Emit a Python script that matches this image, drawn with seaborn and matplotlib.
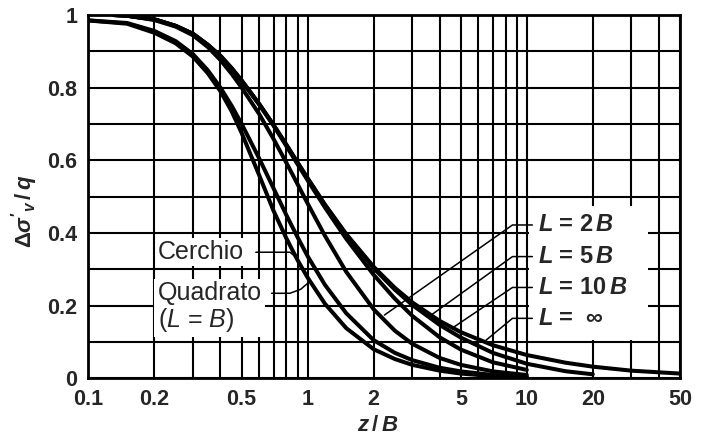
import matplotlib
matplotlib.use("Agg")
import matplotlib.pyplot as plt
from matplotlib.patches import Rectangle
from matplotlib.ticker import NullFormatter, FixedLocator
import pandas as pd
import seaborn as sns

# ---------------- data ----------------
x_lower = [0.1, 0.15, 0.2, 0.25, 0.3, 0.35, 0.4, 0.45, 0.5, 0.6, 0.7, 0.8, 0.9,
           1.0, 1.2, 1.5, 2, 2.5, 3, 4, 5, 7, 10]
y_cerchio = [0.985, 0.976, 0.951, 0.922, 0.885, 0.84, 0.79, 0.735, 0.675, 0.56,
             0.46, 0.385, 0.325, 0.277, 0.205, 0.138, 0.08, 0.053, 0.037, 0.021,
             0.013, 0.006, 0.002]
y_quadrato = [0.985, 0.978, 0.956, 0.928, 0.892, 0.848, 0.80, 0.75, 0.70, 0.606,
              0.522, 0.449, 0.388, 0.336, 0.257, 0.179, 0.105, 0.07, 0.05, 0.029,
              0.019, 0.009, 0.004]

x_upper = [0.13, 0.15, 0.2, 0.25, 0.3, 0.35, 0.4, 0.45, 0.5, 0.6, 0.7, 0.8, 0.9,
           1.0, 1.2, 1.5, 2, 2.5, 3, 4, 5, 7, 10, 15, 20, 30, 50]
y_L2B = [1.0, 0.998, 0.986, 0.968, 0.944, 0.912, 0.876, 0.838, 0.80, 0.728,
         0.658, 0.593, 0.534, 0.481, 0.392, 0.293, 0.19, 0.131, 0.095, 0.056,
         0.037, 0.019, 0.009]
y_L5B = [1.0, 0.998, 0.988, 0.97, 0.948, 0.918, 0.886, 0.852, 0.818, 0.754,
         0.695, 0.639, 0.589, 0.545, 0.47, 0.384, 0.285, 0.219, 0.172, 0.113,
         0.079, 0.044, 0.023]
y_L10B = [1.0, 0.998, 0.988, 0.97, 0.948, 0.918, 0.887, 0.853, 0.819, 0.755,
          0.696, 0.642, 0.593, 0.549, 0.477, 0.395, 0.303, 0.244, 0.202, 0.147,
          0.112, 0.07, 0.04, 0.0195, 0.011]
y_Linf = [1.0, 0.998, 0.988, 0.97, 0.948, 0.918, 0.888, 0.854, 0.82, 0.756,
          0.697, 0.643, 0.594, 0.551, 0.478, 0.397, 0.307, 0.249, 0.209, 0.158,
          0.127, 0.091, 0.064, 0.043, 0.032, 0.021, 0.013]

x_major = [0.1, 0.2, 0.5, 1, 2, 5, 10, 20, 50]
x_major_labels = ["0.1", "0.2", "0.5", "1", "2", "5", "10", "20", "50"]
x_minor = [0.3, 0.4, 0.6, 0.7, 0.8, 0.9, 3, 4, 6, 7, 8, 9, 30, 40]
y_major = [0, 0.2, 0.4, 0.6, 0.8, 1.0]
y_major_labels = ["0", "0.2", "0.4", "0.6", "0.8", "1"]
y_minor = [0.1, 0.3, 0.5, 0.7, 0.9]

right_labels = [r"$L$ = 2$\,B$", r"$L$ = 5$\,B$", r"$L$ = 10$\,B$", r"$L$ =  ∞"]

# ---------------- build long table ----------------
rows = []
for name, xs, ys in [("Cerchio", x_lower, y_cerchio),
                     ("Quadrato", x_lower, y_quadrato),
                     ("L2B", x_upper, y_L2B),
                     ("L5B", x_upper, y_L5B),
                     ("L10B", x_upper, y_L10B),
                     ("Linf", x_upper, y_Linf)]:
    for xv, yv in zip(xs, ys):
        rows.append({"curve": name, "x": xv, "y": yv})
df = pd.DataFrame(rows)

# ---------------- style ----------------
sns.set_theme(style="white")
plt.rcParams["font.family"] = ["Liberation Sans", "DejaVu Sans"]
plt.rcParams["mathtext.fontset"] = "custom"
plt.rcParams["mathtext.it"] = "Liberation Sans:italic:bold"
plt.rcParams["mathtext.rm"] = "Liberation Sans:bold"
plt.rcParams["mathtext.bf"] = "Liberation Sans:bold"
plt.rcParams["mathtext.sf"] = "Liberation Sans:italic"

fig = plt.figure(figsize=(7.04, 4.41), dpi=100)
ax = fig.add_axes([0.1257, 0.1422, 0.8402, 0.8238])
ax.set_xscale("log")

sns.lineplot(data=df, x="x", y="y", units="curve", estimator=None,
             color="black", linewidth=2.9, ax=ax, legend=False, zorder=3)

ax.set_xlim(0.1, 50)
ax.set_ylim(0, 1)

ax.xaxis.set_major_locator(FixedLocator(x_major))
ax.xaxis.set_minor_locator(FixedLocator(x_minor))
ax.set_xticklabels(x_major_labels)
ax.xaxis.set_minor_formatter(NullFormatter())
ax.yaxis.set_major_locator(FixedLocator(y_major))
ax.yaxis.set_minor_locator(FixedLocator(y_minor))
ax.set_yticklabels(y_major_labels)

ax.tick_params(which="both", length=0)
ax.tick_params(axis="x", pad=8, labelsize=15.5)
ax.tick_params(axis="y", pad=8, labelsize=15.5)
for lab in ax.get_xticklabels() + ax.get_yticklabels():
    lab.set_fontweight("bold")

ax.set_axisbelow(True)
ax.grid(which="both", color="black", linewidth=1.5)
for sp in ax.spines.values():
    sp.set_visible(True)
    sp.set_color("black")
    sp.set_linewidth(2.0)

ax.set_xlabel("")
ax.set_ylabel("")
fig.text(0.537, 0.036, r"$z\,/\,B$", ha="center", va="center", fontsize=16)
fig.text(0.035, 0.52, r"$\Delta\sigma'_{v}\,/\,q$", ha="center", va="center",
         rotation=90, fontsize=16)

# left labels with leaders
ax.text(0.207, 0.347, "Cerchio", fontsize=18, ha="left", va="center",
        bbox=dict(facecolor="white", edgecolor="none", pad=1.5), zorder=2)
ax.text(0.207, 0.195, "Quadrato\n" + r"($\mathsf{L}$ = $\mathsf{B}$)", fontsize=18,
        ha="left", va="center", linespacing=1.05,
        bbox=dict(facecolor="white", edgecolor="none", pad=2.5), zorder=2)
ax.plot([0.58, 0.83, 0.88], [0.347, 0.347, 0.335], color="black", lw=1.1, zorder=4)
ax.plot([0.685, 0.83, 0.93, 1.02], [0.234, 0.234, 0.245, 0.266],
        color="black", lw=1.1, zorder=4)

# right labels: white panel, leaders, texts
ax.add_patch(Rectangle((10.25, 0.105), 25.5, 0.37, facecolor="white",
                       edgecolor="none", zorder=1))
label_y = [0.422, 0.335, 0.25, 0.165]
leader_end = [(2.24, 0.174), (3.66, 0.174), (4.67, 0.142), (6.52, 0.105)]
for txt, ly, (ex, ey) in zip(right_labels, label_y, leader_end):
    ax.plot([10.6, 8.6, ex], [ly, ly, ey], color="black", lw=1.1, zorder=4)
    ax.text(11.3, ly, txt, fontsize=17, fontweight="bold", ha="left",
            va="center", zorder=5)

fig.savefig("out.png", dpi=100)
